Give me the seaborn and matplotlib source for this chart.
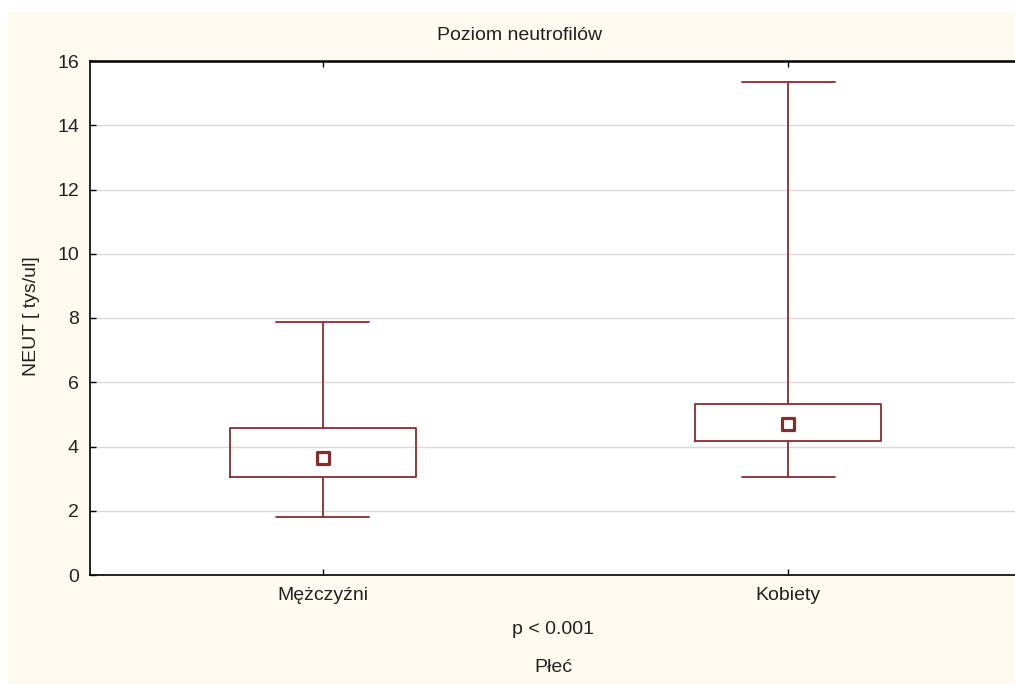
import matplotlib
matplotlib.use("Agg")
import matplotlib.pyplot as plt
import seaborn as sns
import pandas as pd
from matplotlib.patches import Rectangle

# Data (Statistica-style: median, quartiles, min-max)
categories = ["Mężczyźni", "Kobiety"]
minimum = [1.81, 3.05]
q1 = [3.05, 4.17]
median = [3.64, 4.70]
q3 = [4.58, 5.33]
maximum = [7.88, 15.36]
y_ticks = [0, 2, 4, 6, 8, 10, 12, 14, 16]

rows = []
for i, c in enumerate(categories):
    for v in (minimum[i], q1[i], median[i], q3[i], maximum[i]):
        rows.append({"Płeć": c, "NEUT": v})
df = pd.DataFrame(rows)
med_df = pd.DataFrame({"Płeć": categories, "NEUT": median})

sns.set_theme(style="white")
plt.rcParams["font.family"] = ["Liberation Sans", "DejaVu Sans"]

red = "#8a2b2b"
cream = "#fffaf0"
txt = "#222222"
fs = 14

fig = plt.figure(figsize=(10.15, 6.84), dpi=100, facecolor="white")
fig.patches.append(Rectangle((8 / 1015, 0), 1, (684 - 12) / 684,
                             transform=fig.transFigure, facecolor=cream,
                             edgecolor="none", zorder=-10))
ax = fig.add_axes([90 / 1015, (684 - 575) / 684, 925 / 1015, 514 / 684])
ax.set_facecolor("white")

sns.boxplot(data=df, x="Płeć", y="NEUT", order=categories, ax=ax,
            whis=(0, 100), width=0.4, fill=False, color=red, linewidth=1.3,
            medianprops={"linewidth": 0}, showfliers=False)

# adjust cap widths to half the box width
for line in ax.lines:
    xd = line.get_xdata()
    yd = line.get_ydata()
    if len(xd) == 2 and yd[0] == yd[1] and xd[0] != xd[1]:
        cx = (xd[0] + xd[1]) / 2
        line.set_xdata([cx - 0.1, cx + 0.1])

sns.scatterplot(data=med_df, x="Płeć", y="NEUT", ax=ax, marker="s", s=65,
                facecolor="white", edgecolor=red, linewidth=2.3, zorder=5)

ax.set_xlim(-0.501, 1.488)
ax.set_ylim(0, 16)
ax.set_yticks(y_ticks)
ax.yaxis.grid(True, color="#d9d9d9", linewidth=1)
ax.set_axisbelow(True)

for s in ("left", "bottom", "top"):
    ax.spines[s].set_visible(True)
    ax.spines[s].set_color("black")
ax.spines["left"].set_linewidth(1.2)
ax.spines["bottom"].set_linewidth(1.2)
ax.spines["top"].set_linewidth(1.8)
ax.spines["right"].set_visible(False)

ax.tick_params(axis="y", direction="in", length=4, width=1, colors="black",
               labelsize=fs, pad=8, left=True, right=False)
ax.tick_params(axis="x", direction="in", length=4, width=1, colors="black",
               labelsize=fs, pad=9, bottom=True, top=True)
for t in ax.get_xticklabels() + ax.get_yticklabels():
    t.set_color(txt)

ax.set_xlabel("")
ax.set_ylabel("")
fig.text(31 / 1015, 1 - 316 / 684, "NEUT [ tys/ul]", rotation=90,
         ha="center", va="center", fontsize=fs, color=txt)

fig.text(520 / 1015, 1 - 36 / 684, "Poziom neutrofilów", ha="center",
         va="center", fontsize=fs, color=txt)
fig.text(553 / 1015, 1 - 630 / 684, "p < 0.001", ha="center", va="center",
         fontsize=fs, color=txt)
fig.text(553 / 1015, 1 - 668 / 684, "Płeć", ha="center", va="center",
         fontsize=fs, color=txt)

fig.savefig("out.png", dpi=100, facecolor=fig.get_facecolor())
